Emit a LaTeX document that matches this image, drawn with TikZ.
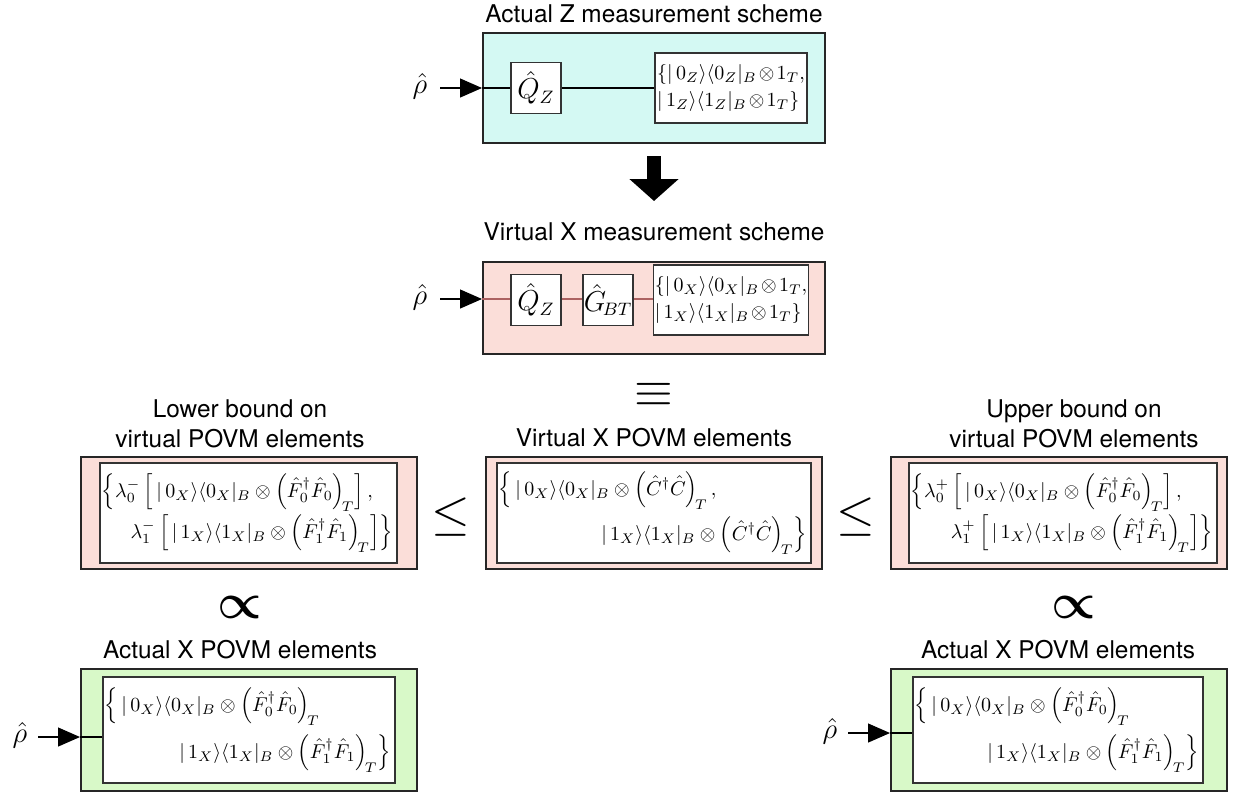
\documentclass[tikz,border=0pt]{standalone}
\usepackage{amsmath}
\usepackage[no-math]{fontspec}
\newfontfamily\hel{TeX Gyre Heros}
\usetikzlibrary{arrows.meta}
\definecolor{cyanfill}{RGB}{212,249,243}
\definecolor{pinkfill}{RGB}{251,222,217}
\definecolor{greenfill}{RGB}{216,249,200}
\definecolor{wirered}{RGB}{172,98,98}
\newcommand{\msz}{\fontsize{10.3}{12}\selectfont}
\newcommand{\rsz}{\fontsize{10.2}{12.2}\selectfont\medmuskip=2mu plus 1mu\thickmuskip=3mu}
\begin{document}
\begin{tikzpicture}[x=0.5pt,y=-0.5pt,
  titletext/.style={font=\hel\fontsize{12.2}{14.2}\selectfont, inner sep=0pt, align=center},
  outerbox/.style={draw=black!85, line width=1pt, inner sep=0pt},
  gatebox/.style={draw=black!80, line width=0.6pt, fill=white, minimum width=25pt, minimum height=25.5pt, inner sep=0pt, font=\fontsize{13.5}{16}\selectfont},
  resbox/.style={draw=black!80, line width=0.6pt, fill=white, minimum width=76pt, minimum height=35pt, inner sep=0.5pt, font=\rsz, align=left},
  innerbox/.style={draw=black!80, line width=0.6pt, fill=white, inner sep=0pt},
  rhotext/.style={inner sep=0pt, font=\fontsize{15}{17}\selectfont},
  inarrow/.style={line width=0.6pt, -{Triangle[length=11pt,width=9.5pt]}},
  wire/.style={line width=0.6pt},
  bigsym/.style={inner sep=0pt}
]
\useasboundingbox (0,0) rectangle (1234,794);

% ---------- Actual Z measurement scheme ----------
\node[titletext] (t1) at (654,14) {Actual Z measurement scheme};
\node[outerbox, fill=cyanfill, minimum width=171pt, minimum height=55pt] (b1) at (654,88) {};
\node[rhotext] (rho1) at (420,86) {$\hat\rho$};
\coordinate (e1) at (b1.west |- 0,88);
\draw[wire] (e1) -- (536,88) -- (731,88);
\node[gatebox] (q1) at (536,88) {$\hat Q_Z$};
\node[resbox] (r1) at (731,88) {$\{|\,0_Z\rangle\langle 0_Z|_B\otimes 1_T,$\\[1pt]$|\,1_Z\rangle\langle 1_Z|_B\otimes 1_T\}$};
\coordinate (s1) at (440,88);
\draw[inarrow] (s1) -- (e1);

% ---------- big arrow ----------
\coordinate (a1) at (654,156);
\coordinate (a2) at (654,201);
\draw[line width=7pt, -{Triangle[length=11pt,width=24pt]}] (a1) -- (a2);

% ---------- Virtual X measurement scheme ----------
\node[titletext] (t2) at (654,232) {Virtual X measurement scheme};
\node[outerbox, fill=pinkfill, minimum width=171pt, minimum height=46pt] (b2) at (654,308) {};
\node[rhotext] (rho2) at (420,297) {$\hat\rho$};
\coordinate (e2) at (b2.west |- 0,299);
\draw[wire, wirered] (e2) -- (731,299);
\node[gatebox] (q2) at (536,300) {$\hat Q_Z$};
\node[gatebox] (g2) at (608,300) {$\hat G_{\!BT}$};
\node[resbox] (r2) at (731,300) {$\{|\,0_X\rangle\langle 0_X|_B\otimes 1_T,$\\[1pt]$|\,1_X\rangle\langle 1_X|_B\otimes 1_T\}$};
\coordinate (s2) at (440,299);
\draw[inarrow] (s2) -- (e2);

% ---------- equivalence ----------
\node[bigsym, font=\fontsize{25}{25}\selectfont] (eq) at (654,395) {$\equiv$};

% ---------- Lower bound ----------
\node[titletext] (t3) at (240,424) {Lower bound on\\[1pt]virtual POVM elements};
\node[outerbox, fill=pinkfill, minimum width=168pt, minimum height=56pt] (b3) at (249,513) {};
\node[innerbox, minimum width=148.5pt, minimum height=50pt] (i3) at (248.5,513) {};
\node[inner sep=0pt, anchor=west] (c3) at ([xshift=1pt]i3.west) {\begin{minipage}{145.5pt}\msz\lineskip=2pt\lineskiplimit=0pt
$\left\{\lambda_0^-\left[\,|\,0_X\rangle\langle 0_X|_B\otimes\left(\hat F_0^\dagger\hat F_0\right)_{\!T}\right],\right.$\\
\hspace*{\fill}$\left.\lambda_1^-\left[\,|\,1_X\rangle\langle 1_X|_B\otimes\left(\hat F_1^\dagger\hat F_1\right)_{\!T}\right]\right\}$
\end{minipage}};

% ---------- Virtual X POVM ----------
\node[titletext] (t4) at (654,438) {Virtual X POVM elements};
\node[outerbox, fill=pinkfill, minimum width=168pt, minimum height=56pt] (b4) at (654,513) {};
\node[innerbox, minimum width=157pt, minimum height=50pt] (i4) at (654,513) {};
\node[inner sep=0pt, anchor=west] (c4) at ([xshift=1pt]i4.west) {\begin{minipage}{154pt}\msz\lineskip=4pt\lineskiplimit=0pt
$\left\{\,|\,0_X\rangle\langle 0_X|_B\otimes\left(\hat C^\dagger\hat C\right)_{\!T},\right.$\\
\hspace*{\fill}$\left.|\,1_X\rangle\langle 1_X|_B\otimes\left(\hat C^\dagger\hat C\right)_{\!T}\right\}$
\end{minipage}};

% ---------- Upper bound ----------
\node[titletext] (t5) at (1074,424) {Upper bound on\\[1pt]virtual POVM elements};
\node[outerbox, fill=pinkfill, minimum width=168pt, minimum height=56pt] (b5) at (1059,513) {};
\node[innerbox, minimum width=154pt, minimum height=50pt] (i5) at (1063,513) {};
\node[inner sep=0pt, anchor=west] (c5) at ([xshift=1pt]i5.west) {\begin{minipage}{151pt}\msz\lineskip=2pt\lineskiplimit=0pt
$\left\{\lambda_0^+\left[\,|\,0_X\rangle\langle 0_X|_B\otimes\left(\hat F_0^\dagger\hat F_0\right)_{\!T}\right],\right.$\\
\hspace*{\fill}$\left.\lambda_1^+\left[\,|\,1_X\rangle\langle 1_X|_B\otimes\left(\hat F_1^\dagger\hat F_1\right)_{\!T}\right]\right\}$
\end{minipage}};

% ---------- relations ----------
\node[bigsym, font=\fontsize{24}{24}\selectfont] (le1) at (451,517) {$\leq$};
\node[bigsym, font=\fontsize{24}{24}\selectfont] (le2) at (856,517) {$\leq$};
\node[bigsym, font=\fontsize{25}{25}\selectfont] (pr1) at (240,607) {$\boldsymbol{\propto}$};
\node[bigsym, font=\fontsize{25}{25}\selectfont] (pr2) at (1074,607) {$\boldsymbol{\propto}$};

% ---------- Actual X POVM left ----------
\node[titletext] (t6) at (240,650) {Actual X POVM elements};
\node[outerbox, fill=greenfill, minimum width=168pt, minimum height=61pt] (b6) at (249,730) {};
\node[rhotext] (rho6) at (20,735) {$\hat\rho$};
\coordinate (e6) at (b6.west |- 0,737);
\node[innerbox, minimum width=146pt, minimum height=53pt] (i6) at (249,730) {};
\draw[wire] (e6) -- (i6.west |- e6);
\node[inner sep=0pt, anchor=west] (c6) at ([xshift=1pt]i6.west) {\begin{minipage}{143pt}\msz\lineskip=5pt\lineskiplimit=0pt
$\left\{\,|\,0_X\rangle\langle 0_X|_B\otimes\left(\hat F_0^\dagger\hat F_0\right)_{\!T}\right.$\\
\hspace*{\fill}$\left.|\,1_X\rangle\langle 1_X|_B\otimes\left(\hat F_1^\dagger\hat F_1\right)_{\!T}\right\}$
\end{minipage}};
\coordinate (s6) at (38,737);
\draw[inarrow] (s6) -- (e6);

% ---------- Actual X POVM right ----------
\node[titletext] (t7) at (1058,650) {Actual X POVM elements};
\node[outerbox, fill=greenfill, minimum width=168pt, minimum height=61pt] (b7) at (1059,730) {};
\node[rhotext] (rho7) at (830,731) {$\hat\rho$};
\coordinate (e7) at (b7.west |- 0,733);
\node[innerbox, minimum width=145pt, minimum height=53pt] (i7) at (1058,730) {};
\draw[wire] (e7) -- (i7.west |- e7);
\node[inner sep=0pt, anchor=west] (c7) at ([xshift=1pt]i7.west) {\begin{minipage}{142pt}\msz\lineskip=5pt\lineskiplimit=0pt
$\left\{\,|\,0_X\rangle\langle 0_X|_B\otimes\left(\hat F_0^\dagger\hat F_0\right)_{\!T}\right.$\\
\hspace*{\fill}$\left.|\,1_X\rangle\langle 1_X|_B\otimes\left(\hat F_1^\dagger\hat F_1\right)_{\!T}\right\}$
\end{minipage}};
\coordinate (s7) at (848,733);
\draw[inarrow] (s7) -- (e7);
\end{tikzpicture}
\end{document}
